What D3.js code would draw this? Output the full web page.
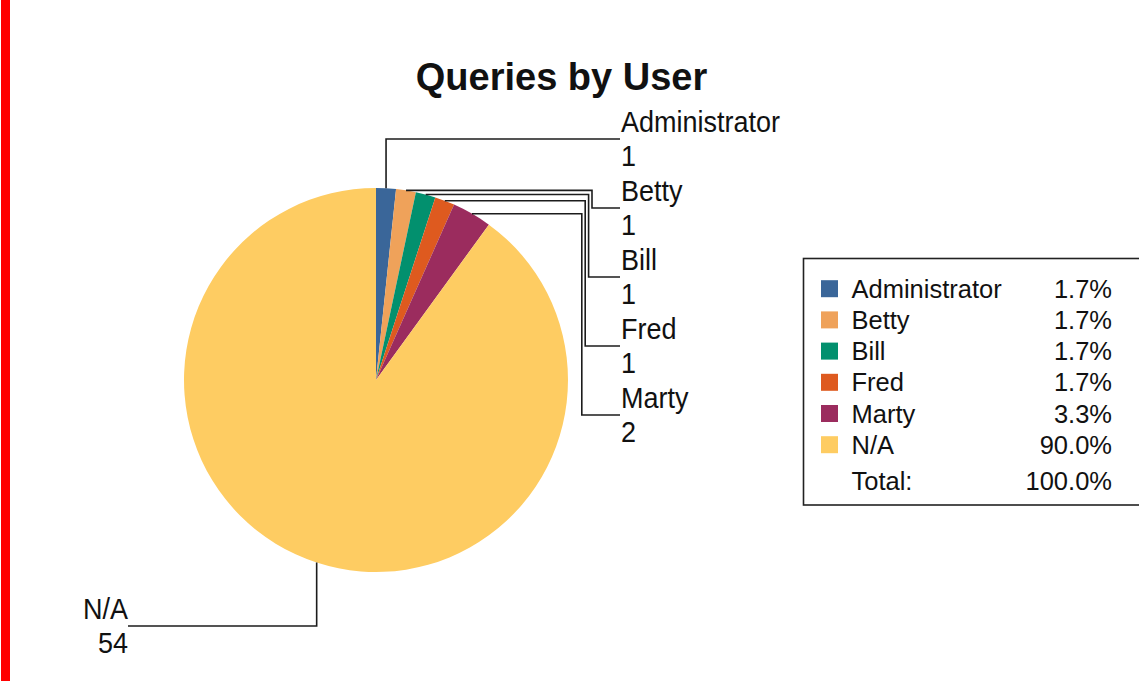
<!DOCTYPE html>
<html>
<head>
<meta charset="utf-8">
<script src="https://cdn.jsdelivr.net/npm/d3@7"></script>
<style>
  html, body { margin: 0; padding: 0; background: #fff; }
  svg { display: block; }
  text { font-family: "Liberation Sans", Arial, sans-serif; fill: #111; }
</style>
</head>
<body>
<svg id="chart" width="1139" height="681"></svg>
<script>
// ---- data ----
const categories = ["Administrator", "Betty", "Bill", "Fred", "Marty", "N/A"];
const values = [1, 1, 1, 1, 2, 54];
const colors = ["#3a6699", "#efa25a", "#02906e", "#de5a1f", "#9b2c5e", "#fecc62"];
const titleText = "Queries by User";
const totalLabel = "Total:";

// ---- layout ----
const W = 1139, H = 681;
const cx = 376, cy = 380, R = 192;
const svg = d3.select("#chart");

// red left bar
svg.append("rect").attr("x", 1).attr("y", 0).attr("width", 9).attr("height", H).attr("fill", "#ff0000");

// title
svg.append("text").attr("x", 561.5).attr("y", 90).attr("text-anchor", "middle")
  .style("font-size", "38px").style("font-weight", "bold").text(titleText);

const data = categories.map((c, i) => ({ name: c, value: values[i], color: colors[i] }));
const total = d3.sum(values);
const pie = d3.pie().value(d => d.value).sort(null);
const arcs = pie(data);
const arc = d3.arc().innerRadius(0).outerRadius(R);

const g = svg.append("g").attr("transform", `translate(${cx},${cy})`);
g.selectAll("path").data(arcs).join("path")
  .attr("d", arc).attr("fill", d => d.data.color);

// ---- leader lines & labels ----
const lineG = svg.append("g").attr("fill", "none").attr("stroke", "#1c1c1c").attr("stroke-width", 1.6);
const labelG = svg.append("g").style("font-size", "27px");
const rightX = 620;
const leftX = 128;
let rightIdx = 0;

function label(x, y, anchor, txt) {
  labelG.append("text")
    .attr("transform", `translate(${x},${y}) scale(1,1.1)`)
    .attr("text-anchor", anchor).text(txt);
}

arcs.forEach((a, i) => {
  const mid = (a.startAngle + a.endAngle) / 2;
  const ax = cx + R * Math.sin(mid);
  const ay = cy - R * Math.cos(mid);
  let path, lx, ly, anchor;
  if (Math.sin(mid) >= 0) {
    ly = 139 + rightIdx * 69;
    lx = rightX;
    anchor = "start";
    if (ly < ay) {
      path = [[ax, ay], [ax, ly], [lx, ly]];
    } else {
      const ex = 592 - (rightIdx - 1) * 3.4;
      path = [[ax, ay], [ex, ay], [ex, ly], [lx, ly]];
    }
    rightIdx++;
  } else {
    ly = 626;
    lx = leftX;
    anchor = "end";
    path = [[ax, ay], [ax, ly], [lx, ly]];
  }
  lineG.append("path").attr("d", d3.line()(path));
  const tx = anchor === "start" ? lx + 1 : lx;
  label(tx, ly - 7, anchor, a.data.name);
  label(tx, ly + 27, anchor, a.data.value);
});

// ---- legend ----
const fmt = d3.format(".1%");
const lg = svg.append("g");
lg.append("rect").attr("x", 803.5).attr("y", 258.5).attr("width", 400).attr("height", 246.5)
  .attr("fill", "#fff").attr("stroke", "#222").attr("stroke-width", 1.6);
const rowY = i => 297.7 + i * 31.2;
data.forEach((d, i) => {
  const by = rowY(i);
  lg.append("rect").attr("x", 821).attr("y", by - 17.5).attr("width", 17).attr("height", 17).attr("fill", d.color);
  lg.append("text").attr("x", 851.5).attr("y", by).style("font-size", "25.5px").text(d.name);
  lg.append("text").attr("x", 1112).attr("y", by).attr("text-anchor", "end").style("font-size", "25.5px").text(fmt(d.value / total));
});
lg.append("text").attr("x", 851.5).attr("y", 490).style("font-size", "25.5px").text(totalLabel);
lg.append("text").attr("x", 1112).attr("y", 490).attr("text-anchor", "end").style("font-size", "25.5px").text(fmt(total / total));
</script>
</body>
</html>
